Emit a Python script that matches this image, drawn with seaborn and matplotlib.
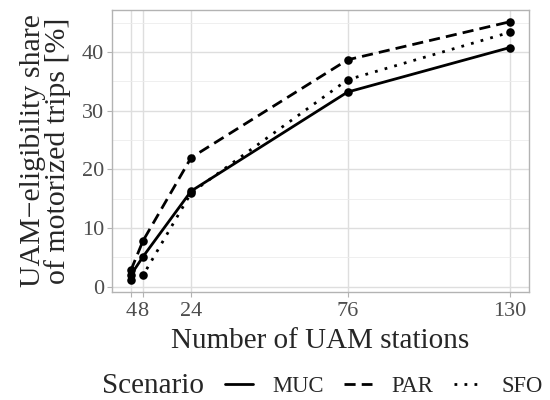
import numpy as np
import pandas as pd
import matplotlib
matplotlib.use("Agg")
import matplotlib.pyplot as plt
import seaborn as sns
from matplotlib.lines import Line2D
from matplotlib.ticker import MultipleLocator

# data
stations = [4, 8, 24, 76, 130]
muc = [2.0, 5.1, 16.3, 33.2, 40.8]
par = [2.8, 7.8, 22.0, 38.7, 45.2]
sfo = [1.2, 1.9, 16.0, 35.3, 43.4]
scenarios = ["MUC", "PAR", "SFO"]
x_ticks = [4, 8, 24, 76, 130]
x_tick_labels = ["4", "8", "24", "76", "130"]

df = pd.DataFrame({
    "stations": stations * 3,
    "share": muc + par + sfo,
    "Scenario": [s for s in scenarios for _ in stations],
})

sns.set_theme(style="white")
plt.rcParams["font.family"] = ["Liberation Serif", "DejaVu Serif"]

fig = plt.figure(figsize=(5.5, 4), dpi=100)
ax = fig.add_axes([0.2036, 0.271, 0.7582, 0.704])

dash_styles = {"MUC": "", "PAR": (4, 2.2), "SFO": (1, 2.6)}
sns.lineplot(data=df, x="stations", y="share", style="Scenario", dashes=dash_styles,
             color="black", linewidth=2.0, ax=ax, legend=False)
sns.scatterplot(data=df, x="stations", y="share", color="black", s=38,
                linewidth=0, ax=ax, legend=False, zorder=3)

ax.set_xlim(-2.3, 136.3)
ax.set_ylim(-0.85, 47.2)
ax.set_xticks(x_ticks)
ax.set_xticklabels(x_tick_labels)
ax.set_yticks([0, 10, 20, 30, 40])
ax.yaxis.set_minor_locator(MultipleLocator(5))

ax.grid(which="major", color="#dedede", linewidth=1.0)
ax.grid(which="minor", axis="y", color="#ececec", linewidth=0.6)
ax.set_axisbelow(True)
for sp in ax.spines.values():
    sp.set_color("#b3b3b3")
    sp.set_linewidth(1.0)

ax.tick_params(axis="both", which="major", length=3.5, width=0.8, color="#b3b3b3",
               labelcolor="#4d4d4d", labelsize=16, pad=2, bottom=True, left=True)
ax.tick_params(axis="x", which="major", pad=4)
ax.tick_params(axis="both", which="minor", length=0)

ax.set_xlabel("Number of UAM stations", fontsize=21, labelpad=5)
ax.set_ylabel("UAM\u2212eligibility share\nof motorized trips [%]", fontsize=21.5,
              labelpad=8, linespacing=0.92)

fig.text(0.185, 0.0175, "Scenario", fontsize=21, va="baseline", ha="left")
handles = [
    Line2D([], [], color="black", linewidth=2.0, linestyle="-"),
    Line2D([], [], color="black", linewidth=2.0, linestyle=(0, (4, 2.2))),
    Line2D([], [], color="black", linewidth=2.0, linestyle=(0, (1, 2.6))),
]
fig.legend(handles, scenarios, loc="lower left", bbox_to_anchor=(0.38, -0.033),
           ncol=3, frameon=False, fontsize=16.3, handlelength=1.23, handletextpad=0.88,
           columnspacing=0.88, borderaxespad=0.3)

fig.savefig("out.png", dpi=100)
